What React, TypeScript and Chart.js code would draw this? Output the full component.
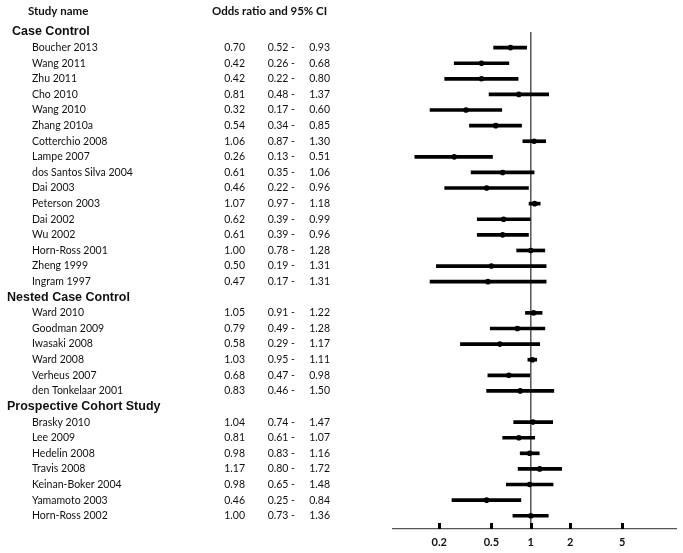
import React, { useEffect, useRef } from "react";
import { Chart, registerables } from "chart.js";

Chart.register(...registerables);

const groupNames = ["Case Control", "Nested Case Control", "Prospective Cohort Study"];

const studyNames = [
  "Boucher 2013", "Wang 2011", "Zhu 2011", "Cho 2010", "Wang 2010", "Zhang 2010a",
  "Cotterchio 2008", "Lampe 2007", "dos Santos Silva 2004", "Dai 2003", "Peterson 2003",
  "Dai 2002", "Wu 2002", "Horn-Ross 2001", "Zheng 1999", "Ingram 1997",
  "Ward 2010", "Goodman 2009", "Iwasaki 2008", "Ward 2008", "Verheus 2007", "den Tonkelaar 2001",
  "Brasky 2010", "Lee 2009", "Hedelin 2008", "Travis 2008", "Keinan-Boker 2004", "Yamamoto 2003", "Horn-Ross 2002",
];

const studyGroup = [
  0, 0, 0, 0, 0, 0, 0, 0, 0, 0, 0, 0, 0, 0, 0, 0,
  1, 1, 1, 1, 1, 1,
  2, 2, 2, 2, 2, 2, 2,
];

const oddsRatio = [
  0.70, 0.42, 0.42, 0.81, 0.32, 0.54, 1.06, 0.26, 0.61, 0.46, 1.07, 0.62, 0.61, 1.00, 0.50, 0.47,
  1.05, 0.79, 0.58, 1.03, 0.68, 0.83,
  1.04, 0.81, 0.98, 1.17, 0.98, 0.46, 1.00,
];

const lowerCI = [
  0.52, 0.26, 0.22, 0.48, 0.17, 0.34, 0.87, 0.13, 0.35, 0.22, 0.97, 0.39, 0.39, 0.78, 0.19, 0.17,
  0.91, 0.49, 0.29, 0.95, 0.47, 0.46,
  0.74, 0.61, 0.83, 0.80, 0.65, 0.25, 0.73,
];

const upperCI = [
  0.93, 0.68, 0.80, 1.37, 0.60, 0.85, 1.30, 0.51, 1.06, 0.96, 1.18, 0.99, 0.96, 1.28, 1.31, 1.31,
  1.22, 1.28, 1.17, 1.11, 0.98, 1.50,
  1.47, 1.07, 1.16, 1.72, 1.48, 0.84, 1.36,
];

const axisTicks = [0.2, 0.5, 1, 2, 5];
const referenceValue = 1;

// Build rows: a header row each time the group changes, then the study rows
type Row = { kind: "header" | "study"; index: number; row: number };
const rows: Row[] = [];
{
  let r = 0;
  let last = -1;
  studyNames.forEach((_, i) => {
    if (studyGroup[i] !== last) {
      last = studyGroup[i];
      rows.push({ kind: "header", index: last, row: r++ });
    }
    rows.push({ kind: "study", index: i, row: r++ });
  });
}
const studyRows = rows.filter((r) => r.kind === "study");
const totalRows = rows.length;

const headerIndent = [12, 7, 7];

const textPlugin = {
  id: "forestText",
  afterDraw(chart: any) {
    const ctx = chart.ctx;
    const yScale = chart.scales.y;
    const xScale = chart.scales.x;
    ctx.save();
    // tick marks sitting on top of the axis line
    ctx.fillStyle = "#000";
    const axisY = Math.round(xScale.top);
    axisTicks.forEach((v) => {
      const px = Math.round(xScale.getPixelForValue(v));
      ctx.fillRect(px - 1, axisY - 6, 3, 6);
    });

    ctx.fillStyle = "#111";
    ctx.textBaseline = "middle";
    // Column headers
    ctx.font = "bold 11.5px Lato";
    ctx.textAlign = "left";
    const hy = yScale.getPixelForValue(-1.3);
    ctx.fillText("Study name", 28, hy);
    ctx.fillText("Odds ratio and 95% CI", 212, hy);

    rows.forEach((r) => {
      const py = yScale.getPixelForValue(r.row);
      if (r.kind === "header") {
        ctx.font = "bold 12.5px 'Liberation Sans'";
        ctx.textAlign = "left";
        ctx.fillText(groupNames[r.index], headerIndent[r.index], py);
      } else {
        const i = r.index;
        ctx.font = "10.5px Lato";
        ctx.textAlign = "left";
        ctx.fillText(studyNames[i], 32, py);
        ctx.textAlign = "right";
        ctx.fillText(oddsRatio[i].toFixed(2), 245, py);
        ctx.fillText(lowerCI[i].toFixed(2) + " -", 295, py);
        ctx.fillText(upperCI[i].toFixed(2), 330, py);
      }
    });
    ctx.restore();
  },
};

export default function App() {
  const canvasRef = useRef<HTMLCanvasElement>(null);

  useEffect(() => {
    document.body.style.margin = "0";
    const canvas = canvasRef.current;
    if (!canvas) return;
    const chart = new Chart(canvas, {
      type: "scatter",
      data: {
        datasets: [
          {
            type: "line",
            data: [
              { x: referenceValue, y: 0 },
              { x: referenceValue, y: totalRows - 0.15 },
            ],
            borderColor: "#555",
            borderWidth: 1.5,
            pointRadius: 0,
            showLine: true,
            order: 3,
          } as any,
          {
            type: "bar",
            indexAxis: "y",
            data: studyRows.map((r) => ({ y: r.row, x: [lowerCI[r.index], upperCI[r.index]] })),
            backgroundColor: "#000",
            borderWidth: 0,
            barThickness: 3,
            grouped: false,
            order: 2,
          } as any,
          {
            type: "scatter",
            data: studyRows.map((r) => ({ x: oddsRatio[r.index], y: r.row })),
            backgroundColor: "#000",
            borderColor: "#000",
            borderWidth: 0,
            pointRadius: 2.8,
            pointStyle: "circle",
            order: 1,
          } as any,
        ],
      },
      options: {
        animation: false,
        responsive: false,
        layout: { padding: { left: 393, right: 7, top: 32, bottom: 0 } },
        plugins: { legend: { display: false }, tooltip: { enabled: false } },
        scales: {
          x: {
            type: "logarithmic",
            min: 0.0886,
            max: 12.86,
            bounds: "data",
            offset: false,
            afterBuildTicks: (scale: any) => {
              scale.ticks = axisTicks.map((v) => ({ value: v }));
            },
            afterFit: (scale: any) => {
              scale.height = 24;
            },
            ticks: {
              autoSkip: false,
              maxRotation: 0,
              padding: 7,
              color: "#111",
              font: { family: "Lato", weight: "bold", size: 11 },
              callback: (v: any) => String(v),
            },
            grid: {
              display: false,
              drawOnChartArea: false,
              drawTicks: false,
              offset: false,
            },
            border: { display: true, color: "#555", width: 1.2 },
          },
          y: {
            type: "linear",
            reverse: true,
            min: 0,
            max: totalRows - 0.15,
            display: false,
            offset: false,
          },
        },
      } as any,
      plugins: [textPlugin],
    });
    return () => chart.destroy();
  }, []);

  return <canvas ref={canvasRef} width={683} height={553} style={{ display: "block" }} />;
}
